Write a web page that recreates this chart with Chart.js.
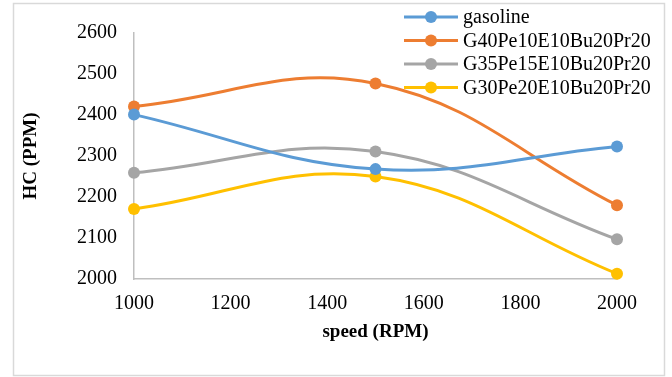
<!DOCTYPE html>
<html>
<head>
<meta charset="utf-8">
<title>HC vs speed</title>
<script src="https://cdn.jsdelivr.net/npm/chart.js@4.4.1/dist/chart.umd.min.js"></script>
<style>
    html, body { margin: 0; padding: 0; background: #fff; }
    #wrap { position: relative; width: 672px; height: 377px; }
</style>
</head>
<body>
<div id="wrap"><canvas id="hcChart"></canvas></div>
<script>
// Engine speed (RPM) at which HC was measured
const speeds = [1000, 1500, 2000];

// HC emissions (PPM) for each fuel blend
const gasoline = [2401, 2268, 2323];
const g40 = [2421, 2477, 2180];
const g35 = [2259, 2311, 2097];
const g30 = [2171, 2250, 2013];

const seriesNames = ['gasoline', 'G40Pe10E10Bu20Pr20', 'G35Pe15E10Bu20Pr20', 'G30Pe20E10Bu20Pr20'];
const seriesValues = [gasoline, g40, g35, g30];
const seriesColors = ['#5B9BD5', '#ED7D31', '#A5A5A5', '#FFC000'];

// Axis tick labels
const xTicks = [1000, 1200, 1400, 1600, 1800, 2000];
const yTicks = [2000, 2100, 2200, 2300, 2400, 2500, 2600];

const serif = "'Liberation Serif', 'Times New Roman', serif";
const axisColor = '#bfbfbf';

// Outer frame + legend stacked in a column over the top right of the plot
const frameAndLegend = {
    id: 'frameAndLegend',
    beforeDraw(chart) {
        const ctx = chart.ctx;
        ctx.save();
        ctx.strokeStyle = '#d9d9d9';
        ctx.lineWidth = 1.5;
        ctx.strokeRect(13.5, 3.5, 651, 372);
        ctx.restore();
    },
    afterDraw(chart) {
        const ctx = chart.ctx;
        ctx.save();
        ctx.font = '20px ' + serif;
        ctx.textBaseline = 'middle';
        ctx.textAlign = 'left';
        chart.data.datasets.forEach((ds, i) => {
            const y = 17 + i * 23.5;
            ctx.strokeStyle = ds.borderColor;
            ctx.lineWidth = 3;
            ctx.beginPath();
            ctx.moveTo(404, y);
            ctx.lineTo(458, y);
            ctx.stroke();
            ctx.fillStyle = ds.borderColor;
            ctx.beginPath();
            ctx.arc(431, y, 6, 0, Math.PI * 2);
            ctx.fill();
            ctx.fillStyle = '#000';
            ctx.fillText(ds.label, 463, y + 1);
        });
        ctx.restore();
    }
};

const ctx = document.getElementById('hcChart').getContext('2d');
const hcChart = new Chart(ctx, {
    type: 'line',
    data: {
        datasets: seriesNames.map((name, i) => ({
            label: name,
            data: speeds.map((s, j) => ({ x: s, y: seriesValues[i][j] })),
            borderColor: seriesColors[i],
            backgroundColor: seriesColors[i],
            pointBackgroundColor: seriesColors[i],
            pointBorderColor: seriesColors[i],
            borderWidth: 3,
            pointRadius: 6,
            pointBorderWidth: 0,
            tension: 0.4,
            fill: false,
            clip: false
        }))
    },
    options: {
        responsive: true,
        maintainAspectRatio: false,
        animation: false,
        layout: {
            padding: { top: 33, right: 55, bottom: 0, left: 0 }
        },
        plugins: {
            legend: { display: false },
            tooltip: { enabled: false }
        },
        scales: {
            x: {
                type: 'linear',
                min: 1000,
                max: 2000,
                afterBuildTicks: scale => { scale.ticks = xTicks.map(v => ({ value: v })); },
                afterFit: scale => { scale.height = 98; },
                grid: { display: false, drawTicks: false },
                border: { display: true, color: axisColor, width: 1.5 },
                ticks: {
                    color: '#000',
                    padding: 13,
                    maxRotation: 0,
                    font: { family: serif, size: 20 },
                    callback: value => String(value)
                },
                title: {
                    display: true,
                    text: 'speed (RPM)',
                    color: '#000',
                    padding: { top: 0, bottom: 34 },
                    font: { family: serif, size: 19, weight: 'bold' }
                }
            },
            y: {
                min: 2000,
                max: 2600,
                afterBuildTicks: scale => { scale.ticks = yTicks.map(v => ({ value: v })); },
                afterFit: scale => { scale.width = 134; },
                grid: { display: false, drawTicks: false },
                border: { display: true, color: axisColor, width: 1.5 },
                ticks: {
                    color: '#000',
                    padding: 17,
                    font: { family: serif, size: 20 },
                    callback: value => String(value)
                },
                title: {
                    display: true,
                    text: 'HC (PPM)',
                    color: '#000',
                    padding: { top: 20, bottom: 0 },
                    font: { family: serif, size: 19, weight: 'bold' }
                }
            }
        }
    },
    plugins: [frameAndLegend]
});
</script>
</body>
</html>
